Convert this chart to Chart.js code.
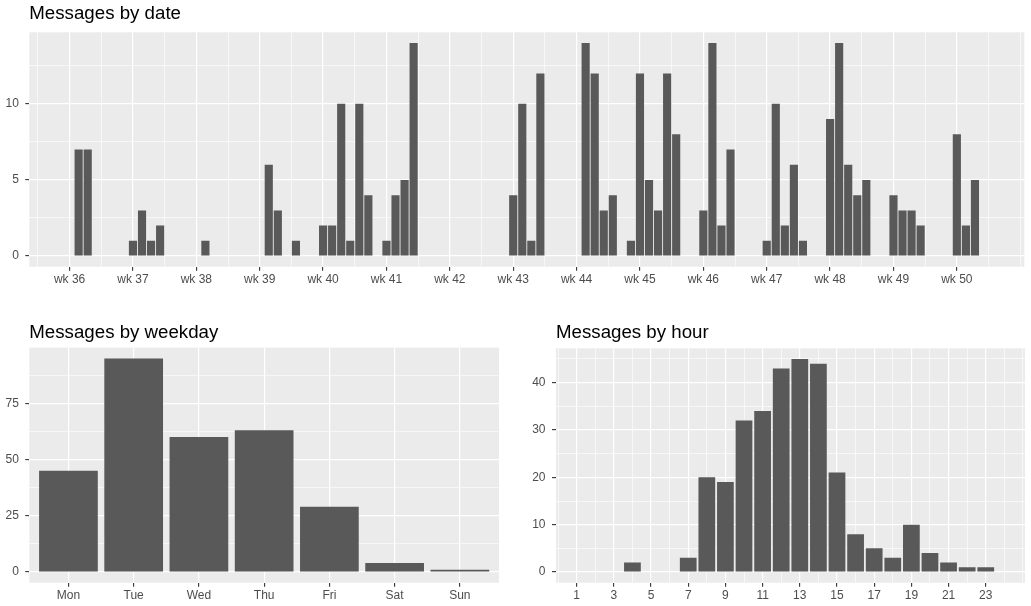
<!DOCTYPE html>
<html><head><meta charset="utf-8">
<script src="https://cdn.jsdelivr.net/npm/chart.js@4.4.0/dist/chart.umd.min.js"></script>
<style>
html,body{margin:0;padding:0;background:#fff;}
body{width:1031px;height:606px;position:relative;overflow:hidden;}
canvas{position:absolute;}
</style></head><body>
<canvas id="cDate" width="1031" height="300" style="left:0;top:0;width:1031px;height:300px"></canvas>
<canvas id="cWeekday" width="515" height="306" style="left:0;top:300px;width:515px;height:306px"></canvas>
<canvas id="cHour" width="516" height="306" style="left:515px;top:300px;width:516px;height:306px"></canvas>
<script>
// ---------- DATA ----------
const dateCategories = [
  "2018-09-04","2018-09-05",
  "2018-09-10","2018-09-11","2018-09-12","2018-09-13",
  "2018-09-18",
  "2018-09-25","2018-09-26","2018-09-28",
  "2018-10-01","2018-10-02","2018-10-03","2018-10-04","2018-10-05","2018-10-06",
  "2018-10-08","2018-10-09","2018-10-10","2018-10-11",
  "2018-10-22","2018-10-23","2018-10-24","2018-10-25",
  "2018-10-30","2018-10-31","2018-11-01","2018-11-02",
  "2018-11-04","2018-11-05","2018-11-06","2018-11-07","2018-11-08","2018-11-09",
  "2018-11-12","2018-11-13","2018-11-14","2018-11-15",
  "2018-11-19","2018-11-20","2018-11-21","2018-11-22","2018-11-23",
  "2018-11-26","2018-11-27","2018-11-28","2018-11-29","2018-11-30",
  "2018-12-03","2018-12-04","2018-12-05","2018-12-06",
  "2018-12-10","2018-12-11","2018-12-12"
];
const dateCounts = [
  7,7,
  1,3,1,2,
  1,
  6,3,1,
  2,2,10,1,10,4,
  1,4,5,14,
  4,10,1,12,
  14,12,3,4,
  1,12,5,3,12,8,
  3,14,2,7,
  1,10,2,6,1,
  9,14,6,4,5,
  4,3,3,2,
  8,2,5
];
const firstWeekStart = "2018-09-03";
const weekTickLabels = ["wk 36","wk 37","wk 38","wk 39","wk 40","wk 41","wk 42","wk 43","wk 44","wk 45","wk 46","wk 47","wk 48","wk 49","wk 50"];
const dateYTicks = [0,5,10];

const weekdayCategories = ["Mon","Tue","Wed","Thu","Fri","Sat","Sun"];
const weekdayCounts = [45,95,60,63,29,4,1];
const weekdayYTicks = [0,25,50,75];

const hourCategories = [4,7,8,9,10,11,12,13,14,15,16,17,18,19,20,21,22,23];
const hourCounts = [2,3,20,19,32,34,43,45,44,21,8,5,3,10,4,2,1,1];
const hourTickLabels = ["1","3","5","7","9","11","13","15","17","19","21","23"];
const hourYTicks = [0,10,20,30,40];

// ---------- STYLE ----------
const FONT = "'Liberation Sans', Arial, Helvetica, sans-serif";
const BAR = '#595959';
const PANEL = '#EBEBEB';
const TICKTXT = '#4d4d4d';
const TICKMARK = '#333333';

function dayNum(s){
  const p = s.split('-').map(Number);
  const r = firstWeekStart.split('-').map(Number);
  return Math.round((Date.UTC(p[0],p[1]-1,p[2]) - Date.UTC(r[0],r[1]-1,r[2]))/86400000);
}

const panelBg = {
  id:'panelBg',
  beforeDraw(chart){
    const {ctx, chartArea:a} = chart;
    ctx.save();
    ctx.fillStyle = PANEL;
    ctx.fillRect(a.left, a.top, a.right - a.left, a.bottom - a.top);
    ctx.restore();
  }
};

// ggplot-like axis: majors (labelled, tick mark), minors (thin grid only)
function ggAxis(opts){
  const majors = opts.majors;
  const minors = opts.minors;
  const all = majors.map(m=>({value:m.value, label:m.label, major:true}))
    .concat(minors.map(v=>({value:v, label:'', major:false})))
    .sort((a,b)=>a.value-b.value);
  const isMaj = v => all.some(t=>t.major && Math.abs(t.value - v) < 1e-9);
  return {
    type:'linear', min:opts.min, max:opts.max, bounds:'data', offset:false,
    position: opts.position,
    afterBuildTicks: ax => { ax.ticks = all.map(t=>({value:t.value})); },
    afterFit: ax => { if (opts.position === 'left') ax.width = opts.size; else ax.height = opts.size; },
    ticks:{
      autoSkip:false, maxRotation:0, minRotation:0, padding:opts.padding,
      color:TICKTXT, font:{family:FONT, size:12},
      callback: v => { const t = all.find(t=>Math.abs(t.value - v) < 1e-9); return t ? t.label : ''; }
    },
    grid:{
      offset:false,
      color:'#ffffff',
      lineWidth: c => (c.tick && isMaj(c.tick.value)) ? 1.2 : 0.6,
      drawTicks:true, tickLength:4, tickWidth:1.1,
      tickColor: c => (c.tick && isMaj(c.tick.value)) ? TICKMARK : 'rgba(0,0,0,0)'
    },
    border:{display:false}
  };
}

function titleOpts(text, top, boxH){
  const size = 18.7, lh = 1.2;
  return {
    display:true, text:text, align:'start', fullSize:false, color:'#000',
    font:{family:FONT, size:size, weight:'normal', lineHeight:lh},
    padding:{top:top, bottom: boxH - top - size*lh}
  };
}

function makeChart(id, points, xAxis, yAxis, title, padRight){
  return new Chart(document.getElementById(id), {
    type:'bar',
    data:{ datasets:[{ data:points, backgroundColor:BAR, borderWidth:0,
      barPercentage:0.9, categoryPercentage:1.0 }] },
    options:{
      responsive:false, animation:false, devicePixelRatio:1,
      layout:{ padding:{left:0, top:0, right:padRight, bottom:0} },
      plugins:{ legend:{display:false}, tooltip:{enabled:false}, title:title },
      scales:{ x:xAxis, y:yAxis }
    },
    plugins:[panelBg]
  });
}

// ---------- Messages by date ----------
{
  const pts = dateCategories.map((d,i)=>({x:dayNum(d), y:dateCounts[i]}));
  const majors = weekTickLabels.map((l,i)=>({value:i*7, label:l}));
  const minors = [];
  for (let i = -1; i <= weekTickLabels.length; i++) { minors.push(i*7 + 3.5); }
  minors.push(weekTickLabels.length*7);
  const x = ggAxis({min:-4.45, max:105.45, majors, minors:minors.filter(v=>v>-4.45 && v<105.45), position:'bottom', size:33.3, padding:2});
  const y = ggAxis({min:-0.7, max:14.7,
    majors: dateYTicks.map(v=>({value:v, label:String(v)})),
    minors: [2.5,7.5,12.5], position:'left', size:29.3, padding:6.5});
  makeChart('cDate', pts, x, y, titleOpts('Messages by date', 3.0, 32.3), 6.7);
}

// ---------- Messages by weekday ----------
{
  const pts = weekdayCategories.map((d,i)=>({x:i+1, y:weekdayCounts[i]}));
  const x = ggAxis({min:0.4, max:7.6,
    majors: weekdayCategories.map((l,i)=>({value:i+1, label:l})), minors:[],
    position:'bottom', size:23.3, padding:2});
  const y = ggAxis({min:-4.75, max:99.75,
    majors: weekdayYTicks.map(v=>({value:v, label:String(v)})),
    minors:[12.5,37.5,62.5,87.5], position:'left', size:29.3, padding:6.5});
  makeChart('cWeekday', pts, x, y, titleOpts('Messages by weekday', 21.6, 47.7), 16);
}

// ---------- Messages by hour ----------
{
  const pts = hourCategories.map((h,i)=>({x:h, y:hourCounts[i]}));
  const majors = hourTickLabels.map(l=>({value:Number(l), label:l}));
  const minors = [];
  for (let v = 0; v <= 25; v++) if (!hourTickLabels.includes(String(v))) minors.push(v);
  const x = ggAxis({min:-0.11, max:25.11, majors, minors, position:'bottom', size:23.3, padding:2});
  const y = ggAxis({min:-2.25, max:47.25,
    majors: hourYTicks.map(v=>({value:v, label:String(v)})),
    minors:[5,15,25,35,45], position:'left', size:41, padding:6.5});
  makeChart('cHour', pts, x, y, titleOpts('Messages by hour', 21.6, 48.3), 6);
}
</script>
</body></html>
